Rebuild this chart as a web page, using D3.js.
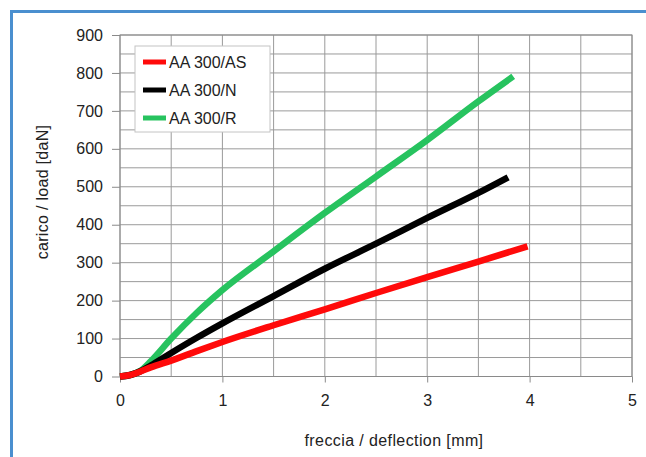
<!DOCTYPE html>
<html><head><meta charset="utf-8">
<script src="https://cdn.jsdelivr.net/npm/d3@7"></script>
<style>
html,body{margin:0;padding:0;background:#fff;}
svg{display:block;font-family:"Liberation Sans",Arial,sans-serif;}
</style></head>
<body>
<svg id="c" width="646" height="457"></svg>
<script>
const seriesNames = ["AA 300/AS", "AA 300/N", "AA 300/R"];
const seriesColors = ["#ff0a0a", "#000000", "#27c35f"];
const xAS = [0, 0.1, 0.2, 0.3, 0.5, 0.75, 1, 1.5, 2, 2.5, 3, 3.5, 3.98];
const yAS = [0, 4, 13, 24, 42, 67, 91, 135, 177, 220, 262, 303, 343];
const xN  = [0, 0.1, 0.2, 0.3, 0.5, 0.75, 1, 1.5, 2, 2.5, 3, 3.5, 3.79];
const yN  = [0, 4, 14, 29, 62, 102, 140, 212, 284, 350, 418, 484, 525];
const xR  = [0, 0.1, 0.2, 0.3, 0.5, 0.75, 1, 1.5, 2, 2.5, 3, 3.5, 3.84];
const yR  = [0, 4, 15, 40, 100, 168, 228, 330, 431, 527, 623, 725, 791];
const xTicks = [0, 1, 2, 3, 4, 5];
const yTicks = [0, 100, 200, 300, 400, 500, 600, 700, 800, 900];
const xTitle = "freccia / deflection [mm]";
const yTitle = "carico / load [daN]";

const svg = d3.select("#c");
const L = 120, R = 632, T = 35, B = 376.5;
const x = d3.scaleLinear().domain([0, 5]).range([L, R]);
const y = d3.scaleLinear().domain([0, 900]).range([B, T]);

// blue outer frame
svg.append("path").attr("d", "M11.5,460 L11.5,11.5 L650,11.5")
  .attr("fill", "none").attr("stroke", "#4a8fcf").attr("stroke-width", 3);

// grid
const g = svg.append("g");
g.selectAll("line.v").data(d3.range(0, 5.01, 0.5)).join("line")
  .attr("x1", d => x(d)).attr("x2", d => x(d)).attr("y1", T).attr("y2", B)
  .attr("stroke", "#9a9a9a").attr("stroke-width", 1);
g.selectAll("line.h").data(d3.range(0, 901, 50)).join("line")
  .attr("y1", d => y(d)).attr("y2", d => y(d)).attr("x1", L).attr("x2", R)
  .attr("stroke", "#9a9a9a").attr("stroke-width", 1);
g.append("rect").attr("x", L).attr("y", T).attr("width", R - L).attr("height", B - T)
  .attr("fill", "none").attr("stroke", "#8a8a8a").attr("stroke-width", 1);

// axes
const yAxis = d3.axisLeft(y).tickValues(yTicks).tickSize(8).tickPadding(9).tickFormat(d3.format("d"));
const ya = svg.append("g").attr("transform", `translate(${L},0)`).call(yAxis);
const xAxis = d3.axisBottom(x).tickValues(xTicks).tickSize(6).tickPadding(12).tickFormat(d3.format("d"));
const xa = svg.append("g").attr("transform", `translate(0,${B})`).call(xAxis);
[ya, xa].forEach(a => {
  a.select(".domain").remove();
  a.selectAll(".tick line").attr("stroke", "#8a8a8a");
  a.selectAll(".tick text").attr("fill", "#222").style("font-size", "16px")
   .style("font-family", "'Liberation Sans', Arial, sans-serif");
});

// titles
svg.append("text").attr("x", 394).attr("y", 446).attr("text-anchor", "middle")
  .attr("fill", "#222").style("font-size", "16px").style("letter-spacing", "0.4px").text(xTitle);
svg.append("text").attr("transform", "translate(48,192) rotate(-90)").attr("text-anchor", "middle")
  .attr("fill", "#222").style("font-size", "16px").style("letter-spacing", "0.3px").text(yTitle);

// curves
const data = [xAS.map((v, i) => [v, yAS[i]]), xN.map((v, i) => [v, yN[i]]), xR.map((v, i) => [v, yR[i]])];
const line = d3.line().x(d => x(d[0])).y(d => y(d[1])).curve(d3.curveMonotoneX);
const order = [2, 1, 0];
svg.append("g").selectAll("path").data(order).join("path")
  .attr("d", i => line(data[i])).attr("fill", "none")
  .attr("stroke", i => seriesColors[i]).attr("stroke-width", 6.5)
  .attr("stroke-linejoin", "round").attr("stroke-linecap", "butt");

// legend
const lg = svg.append("g");
lg.append("rect").attr("x", 135).attr("y", 46).attr("width", 135).attr("height", 86)
  .attr("fill", "#fff").attr("stroke", "#c4c4c4").attr("stroke-width", 1);
seriesNames.forEach((n, i) => {
  const cy = 62 + i * 28;
  lg.append("line").attr("x1", 143).attr("x2", 166).attr("y1", cy).attr("y2", cy)
    .attr("stroke", seriesColors[i]).attr("stroke-width", 5);
  lg.append("text").attr("x", 169).attr("y", cy + 6).attr("fill", "#222")
    .style("font-size", "16px").text(n);
});
</script>
</body></html>
